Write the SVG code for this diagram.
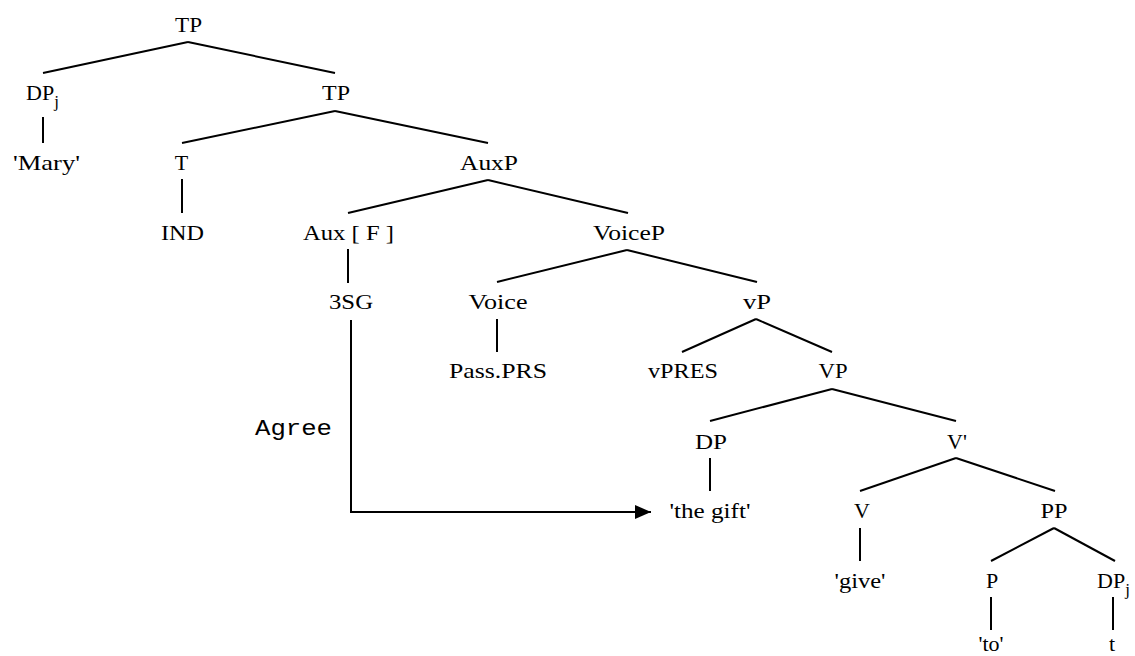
<svg xmlns="http://www.w3.org/2000/svg" width="1135" height="656" viewBox="0 0 1135 656">
<style>
  text { font-family: "Liberation Serif", "Times New Roman", Times, Tinos, "Nimbus Roman", FreeSerif, "DejaVu Serif", "Noto Serif", Georgia, serif; font-size: 22px; fill: #000; text-anchor: middle; }
  .sub { font-size: 17px; }
  .agree { font-family: "Liberation Mono", "Courier New", monospace; font-size: 22px; text-anchor: start; }
  .edge { stroke: #000; stroke-width: 2; fill: none; }
</style>
<defs>
  <marker id="arrow" markerUnits="userSpaceOnUse" markerWidth="17" markerHeight="15" refX="16" refY="7" orient="auto">
    <path d="M0,0 L16,7 L0,14 z" fill="#000"/>
  </marker>
</defs>
<rect width="1135" height="656" fill="#fff"/>
<g id="connectors">
  <line class="edge" x1="188" y1="42" x2="43" y2="73"/>
  <line class="edge" x1="188" y1="42" x2="335" y2="73"/>
  <line class="edge" x1="43" y1="117" x2="43" y2="143"/>
  <line class="edge" x1="335" y1="111" x2="182" y2="143"/>
  <line class="edge" x1="335" y1="111" x2="488" y2="143"/>
  <line class="edge" x1="182" y1="179" x2="182" y2="213"/>
  <line class="edge" x1="488" y1="180" x2="348" y2="213"/>
  <line class="edge" x1="488" y1="180" x2="628" y2="213"/>
  <line class="edge" x1="348" y1="249" x2="348" y2="283"/>
  <line class="edge" x1="627" y1="250" x2="497" y2="282"/>
  <line class="edge" x1="627" y1="250" x2="757" y2="282"/>
  <line class="edge" x1="497" y1="319" x2="497" y2="352"/>
  <line class="edge" x1="756" y1="319" x2="682" y2="352"/>
  <line class="edge" x1="756" y1="319" x2="832" y2="352"/>
  <line class="edge" x1="832" y1="389" x2="710" y2="421"/>
  <line class="edge" x1="832" y1="389" x2="956" y2="421"/>
  <line class="edge" x1="710" y1="458" x2="710" y2="491"/>
  <line class="edge" x1="956" y1="458" x2="860" y2="491"/>
  <line class="edge" x1="956" y1="458" x2="1055" y2="491"/>
  <line class="edge" x1="860" y1="528" x2="860" y2="561"/>
  <line class="edge" x1="1054" y1="528" x2="991" y2="561"/>
  <line class="edge" x1="1054" y1="528" x2="1115" y2="561"/>
  <line class="edge" x1="991" y1="597" x2="991" y2="630"/>
  <line class="edge" x1="1113" y1="597" x2="1113" y2="630"/>
  <polyline id="agree-arrow" class="edge" points="351,320 351,512 651,512" marker-end="url(#arrow)"/>
</g>
<g id="n-tp0"><text x="188.5" y="32" textLength="27" lengthAdjust="spacingAndGlyphs">TP</text></g>
<g id="n-dpj1"><text x="26" y="100" style="text-anchor:start">DP<tspan class="sub" dy="7">j</tspan></text></g>
<g id="n-tp1"><text x="336" y="100" textLength="28" lengthAdjust="spacingAndGlyphs">TP</text></g>
<g id="n-mary"><text x="46.5" y="170" textLength="67" lengthAdjust="spacingAndGlyphs">'Mary'</text></g>
<g id="n-t"><text x="181.5" y="170">T</text></g>
<g id="n-auxp"><text x="489" y="170" textLength="58" lengthAdjust="spacingAndGlyphs">AuxP</text></g>
<g id="n-ind"><text x="182.5" y="240" textLength="43" lengthAdjust="spacingAndGlyphs">IND</text></g>
<g id="n-aux"><text x="348.5" y="240" textLength="91" lengthAdjust="spacingAndGlyphs">Aux [ F ]</text></g>
<g id="n-voicep"><text x="629" y="240" textLength="72" lengthAdjust="spacingAndGlyphs">VoiceP</text></g>
<g id="n-3sg"><text x="351" y="309" textLength="44" lengthAdjust="spacingAndGlyphs">3SG</text></g>
<g id="n-voice"><text x="498" y="309" textLength="59" lengthAdjust="spacingAndGlyphs">Voice</text></g>
<g id="n-vp-small"><text x="757" y="309" textLength="28" lengthAdjust="spacingAndGlyphs">vP</text></g>
<g id="n-pass"><text x="498" y="378" textLength="98" lengthAdjust="spacingAndGlyphs">Pass.PRS</text></g>
<g id="n-vpres"><text x="683" y="378" textLength="70" lengthAdjust="spacingAndGlyphs">vPRES</text></g>
<g id="n-vp"><text x="833" y="378" textLength="29" lengthAdjust="spacingAndGlyphs">VP</text></g>
<g id="n-agree"><text class="agree" x="255" y="435" textLength="77" lengthAdjust="spacingAndGlyphs">Agree</text></g>
<g id="n-dp"><text x="711" y="449" textLength="32" lengthAdjust="spacingAndGlyphs">DP</text></g>
<g id="n-vbar"><text x="957" y="449">V'</text></g>
<g id="n-gift"><text x="710" y="518" textLength="81" lengthAdjust="spacingAndGlyphs">'the gift'</text></g>
<g id="n-v"><text x="862" y="518">V</text></g>
<g id="n-pp"><text x="1054" y="518" textLength="27" lengthAdjust="spacingAndGlyphs">PP</text></g>
<g id="n-give"><text x="860" y="588" textLength="51" lengthAdjust="spacingAndGlyphs">'give'</text></g>
<g id="n-p"><text x="992" y="588">P</text></g>
<g id="n-dpj2"><text x="1097" y="588" style="text-anchor:start">DP<tspan class="sub" dy="7">j</tspan></text></g>
<g id="n-to"><text x="991" y="651">'to'</text></g>
<g id="n-trace"><text x="1112" y="651">t</text></g>
</svg>
